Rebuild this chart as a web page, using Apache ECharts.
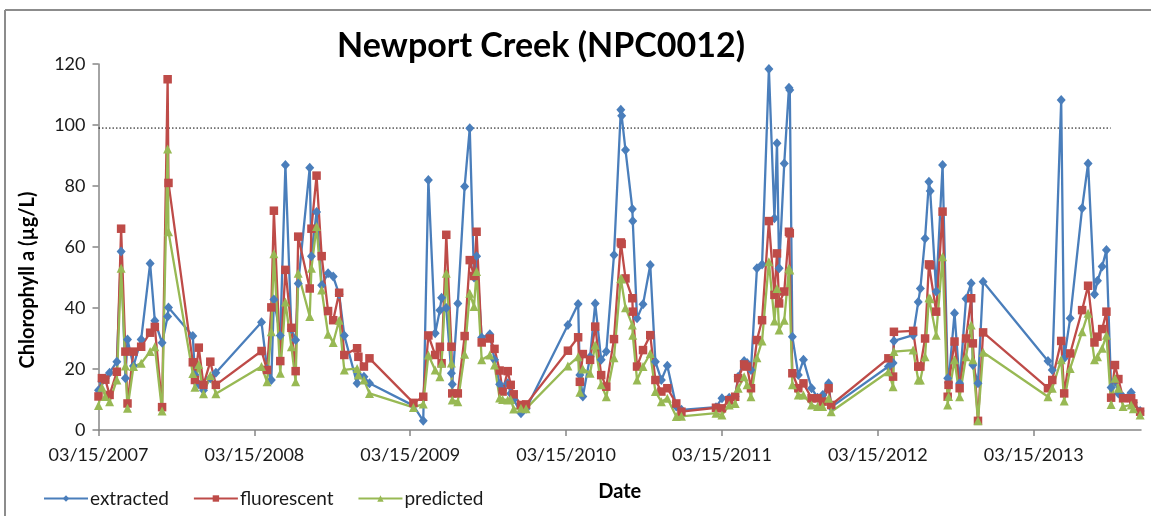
<!DOCTYPE html>
<html>
<head>
<meta charset="utf-8">
<script src="https://cdn.jsdelivr.net/npm/echarts@6/dist/echarts.min.js"></script>
<style>
html,body{margin:0;padding:0;background:#fff;}
#chart{width:1151px;height:516px;}
</style>
</head>
<body>
<div id="chart"></div>
<script>
// ---- data ----
const startDate = '2007-03-15';
const xTickLabels = ['03/15/2007','03/15/2008','03/15/2009','03/15/2010','03/15/2011','03/15/2012','03/15/2013'];
const seriesNames = ['extracted','fluorescent','predicted'];
const dates = [
'2007-03-15','2007-03-23','2007-03-31','2007-04-10','2007-04-27','2007-05-07','2007-05-17','2007-05-22','2007-06-05','2007-06-23',
'2007-07-14','2007-07-25','2007-08-11','2007-08-24','2007-08-26','2007-10-22','2007-10-27','2007-11-05','2007-11-16','2007-12-02',
'2007-12-15','2008-03-31','2008-04-13','2008-04-23','2008-04-29','2008-05-14','2008-05-26','2008-06-09','2008-06-19','2008-06-25',
'2008-07-22','2008-07-26','2008-08-07','2008-08-19','2008-09-03','2008-09-15','2008-09-29','2008-10-11','2008-11-10','2008-11-13',
'2008-11-26','2008-12-09','2009-03-22','2009-04-14','2009-04-26','2009-05-12','2009-05-23','2009-05-27','2009-06-07','2009-06-19',
'2009-06-21','2009-07-04','2009-07-20','2009-08-01','2009-08-11','2009-08-17','2009-08-29','2009-09-17','2009-09-28','2009-10-10',
'2009-10-17','2009-10-29','2009-11-05','2009-11-12','2009-11-29','2009-12-11','2010-03-19','2010-04-12','2010-04-16','2010-04-23',
'2010-05-10','2010-05-22','2010-06-05','2010-06-17','2010-07-05','2010-07-21','2010-07-23','2010-08-01','2010-08-17','2010-08-18',
'2010-08-28','2010-09-11','2010-09-28','2010-10-10','2010-10-24','2010-11-07','2010-11-28','2010-12-10','2011-03-01','2011-03-15',
'2011-04-01','2011-04-15','2011-04-22','2011-05-06','2011-05-13','2011-05-22','2011-06-05','2011-06-17','2011-07-03','2011-07-16',
'2011-07-22','2011-07-27','2011-08-08','2011-08-19','2011-08-21','2011-08-27','2011-09-10','2011-09-22','2011-10-11','2011-10-25',
'2011-11-06','2011-11-20','2011-11-26','2012-04-08','2012-04-19','2012-04-21','2012-06-05','2012-06-17','2012-06-22','2012-07-03',
'2012-07-12','2012-07-15','2012-07-29','2012-08-13','2012-08-25','2012-08-27','2012-09-10','2012-09-22','2012-10-07','2012-10-19',
'2012-10-23','2012-11-04','2012-11-16','2013-04-17','2013-04-27','2013-05-18','2013-05-25','2013-06-08','2013-07-06','2013-07-20',
'2013-08-04','2013-08-11','2013-08-22','2013-09-01','2013-09-12','2013-09-21','2013-09-29','2013-10-10','2013-10-29','2013-11-03',
'2013-11-19'
];
const extracted = [
13,16,17,18.8,22.4,58.5,17,29.7,21,29.7,
54.6,35.8,28.6,37.2,40.2,30.8,18,15,13,17,
18.8,35.3,20,16.4,42.8,31,86.9,33,29.5,48,
86,57,71.5,47.5,51.4,50.3,44.5,31,15.3,18,
17.5,15.3,8,3,82,31.7,39.3,43.4,40,18.6,
15,41.5,79.8,98.9,50,57,30.3,31.4,23,15,
13,15.3,12,10,5.5,7,34.4,41.3,18,11,
24,41.5,23,25.7,57.4,105,103,91.8,72.5,68.5,
36.6,41.2,54.1,22.4,16.4,21.1,7.7,6.6,7.5,10.4,
10.6,11,17.5,22.6,22,19.7,53,54.3,118.4,69.4,
94,53,87.4,112.2,111.5,30.6,18,23,13.7,10.6,
11.5,15.3,7.5,20.8,22,29.2,31.1,42,46.4,62.8,
81.4,78.4,45.4,86.9,17,15.5,38.3,15.3,43,48.1,
21.3,15.3,48.6,22.6,19.7,108.2,23.5,36.6,72.7,87.4,
44.5,48.9,53.6,59,13.9,16,12,10.9,12.3,9,
6.2
];
const fluorescent = [
11,17,16.5,11.5,19.1,66,25.7,8.7,25.7,27.3,
31.9,33.8,7.5,115,81,22.2,16.4,27,14.8,22.4,
14.8,25.9,19.7,40.2,71.9,22.6,52.5,33.5,19.3,63.4,
46.4,66,83.4,57,39,36,45,24.6,26.8,24,
20.8,23.5,8.9,10.9,31,24.6,27.3,21.9,64,27.3,
12,12,30.8,55.7,50.5,65,28.7,30,26.6,19.5,
12.6,19.3,14.8,11.7,8.2,8.4,26,30.4,15.8,24.9,
23,33.9,18,14.2,29.8,61.5,61,49.7,43.2,38.8,
20.8,26.2,31.1,16.4,12.6,13.7,8.7,6,7.3,7.1,
9.8,10.9,17,21.5,20.8,13.7,29.5,36,68.5,44.3,
57.9,41.5,45.4,65,64.5,18.6,13.7,15.3,10.4,10.4,
9.3,13.7,8.2,23.5,17.5,32.2,32.5,20.8,20.8,30,
54.3,54,38.8,71.6,10.9,14.8,29,13.7,30,43.2,
28.4,3,32,13.7,16.4,29.2,12,25.1,39.3,47.3,
28.7,30.6,33.1,38.8,10.6,21.3,16.7,10.4,10.4,8.7,
6
];
const predicted = [
8,14,11,9.3,16.4,53,21,7.1,20.8,21.9,
25.7,27.3,6.2,92.1,65,18.5,14,21.5,11.9,17.9,
11.9,20.8,15.8,32.2,57.8,18.6,42,27.3,15.8,51.4,
37.2,53,66.7,45.9,31.4,28.7,36,19.7,20.2,18,
16.4,12,7.4,8.5,24.6,19.7,17.5,21.9,51.4,22,
9.8,9.3,24.8,44.8,40.5,52,23,24.6,21.3,10.5,
10,9.8,10,6.9,7.1,7,21,24,12.4,20,
18.6,27.9,14.8,10.9,23.7,49.7,49.5,40.1,34.4,31.1,
16.4,20.8,25.1,12.6,9.3,10.4,4.4,4.5,5.5,4.9,
8.2,8.7,13.7,17.5,14.8,10.9,23.7,29.2,55.2,35.7,
46.4,32.8,36,53,52.5,14.8,11.5,11.5,8.2,7.7,
7.7,10.4,6,19.1,14.2,25.7,26.2,16.4,16.4,24,
43.4,43,31.1,56.8,8.2,11,23,10.9,24,34.4,
23,3,25.5,10.9,13.7,23,9.5,20.2,32.2,38.3,
23,24,26.8,31.1,8.4,17,13.7,7.7,8.2,7,
4.9
];
const thresholdDates = ['2007-03-15','2013-09-11'];
const thresholdValue = 99;
const axisEndDate = '2013-11-21';

// ---- helpers ----
const DAY = 86400000;
const t0 = Date.parse(startDate + 'T00:00:00Z');
const dayOffset = d => (Date.parse(d + 'T00:00:00Z') - t0) / DAY;
const YEAR = 365.25;
const pair = vals => dates.map((d, i) => [dayOffset(d), vals[i]]);

const FONT = 'Lato, "Open Sans", sans-serif';
const colors = ['#4A7EBB', '#BE4B48', '#98B954'];

const chart = echarts.init(document.getElementById('chart'), null, {renderer: 'canvas'});
const mk = (name, vals, color, symbol, size) => ({
  name, type: 'line', data: pair(vals), symbol, symbolSize: size,
  showSymbol: true, showAllSymbol: true,
  lineStyle: {color, width: 2.3},
  itemStyle: {color, borderWidth: 0},
  emphasis: {disabled: true}, animation: false, z: 3
});

chart.setOption({
  animation: false,
  backgroundColor: '#fff',
  grid: {left: 98.5, right: 10, top: 64, bottom: 86, containLabel: false},
  xAxis: {
    type: 'value', min: 0, max: dayOffset(axisEndDate), interval: YEAR,
    name: 'Date', nameLocation: 'middle', nameGap: 52,
    nameTextStyle: {fontFamily: FONT, fontWeight: 'bold', fontSize: 20, color: '#000'},
    axisLine: {show: true, lineStyle: {color: '#868686', width: 1.5}},
    axisTick: {show: true, length: 6, inside: false, lineStyle: {color: '#868686', width: 1.5}},
    splitLine: {show: false},
    axisLabel: {
      fontFamily: FONT, fontSize: 18, color: '#1a1a1a', margin: 16,
      showMaxLabel: false,
      formatter: v => xTickLabels[Math.round(v / YEAR)] || ''
    }
  },
  yAxis: {
    type: 'value', min: 0, max: 120, interval: 20,
    axisLine: {show: true, lineStyle: {color: '#868686', width: 1.5}},
    axisTick: {show: true, length: 6, lineStyle: {color: '#868686', width: 1.5}},
    splitLine: {show: false},
    axisLabel: {fontFamily: FONT, fontSize: 18, color: '#1a1a1a', margin: 13}
  },
  legend: {
    data: seriesNames, left: 38, top: 484, itemWidth: 44, itemHeight: 8, itemGap: 24,
    textStyle: {fontFamily: FONT, fontSize: 19, color: '#1a1a1a', padding: [0,0,0,-3]},
    selectedMode: false
  },
  graphic: [
    {type: 'text', x: 541, y: 46, z: 10,
     style: {text: 'Newport Creek (NPC0012)', fontFamily: FONT, fontWeight: 'bold', fontSize: 34,
             fill: '#000', textAlign: 'center', textVerticalAlign: 'middle'}},
    {type: 'text', x: 28, y: 280, rotation: Math.PI / 2, z: 10,
     style: {text: 'Chlorophyll a (µg/L)', fontFamily: FONT, fontWeight: 'bold', fontSize: 20,
             fill: '#000', textAlign: 'center', textVerticalAlign: 'middle'}},
    {type: 'line', shape: {x1: 5, y1: 10, x2: 1151, y2: 10}, style: {stroke: '#8c8c8c', lineWidth: 2}},
    {type: 'line', shape: {x1: 5, y1: 10, x2: 5, y2: 516}, style: {stroke: '#8c8c8c', lineWidth: 2}}
  ],
  series: [
    {name: 'threshold', type: 'line', data: thresholdDates.map(d => [dayOffset(d), thresholdValue]),
     symbol: 'none', lineStyle: {color: '#000', width: 1, type: [1.5, 2]}, silent: true, z: 2, animation: false},
    mk(seriesNames[0], extracted, colors[0], 'diamond', [9, 10]),
    mk(seriesNames[1], fluorescent, colors[1], 'rect', 8.5),
    mk(seriesNames[2], predicted, colors[2], 'triangle', 9)
  ]
});
</script>
</body>
</html>
